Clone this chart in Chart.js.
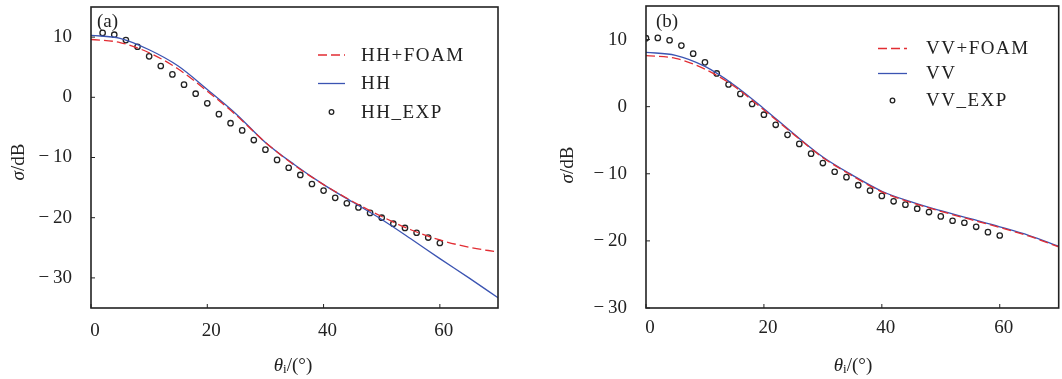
<!DOCTYPE html>
<html>
<head>
<meta charset="utf-8">
<script src="https://cdn.jsdelivr.net/npm/chart.js@4.4.1/dist/chart.umd.min.js"></script>
<style>
  html, body { margin: 0; padding: 0; background: #fff; overflow: hidden; width: 1062px; height: 379px; }
  canvas { position: absolute; top: 0; }
  #graficaA { left: 0; }
  #graficaB { left: 530px; }
</style>
</head>
<body>
<canvas id="graficaA" width="530" height="379"></canvas>
<canvas id="graficaB" width="534" height="379"></canvas>
<script>
// angulos de las curvas teoricas
const thetaCurva = [0, 5, 10, 15, 20, 25, 30, 35, 40, 45, 50, 55, 60, 65, 70];
// (a) polarizacion HH
const hhFoam = [9.6, 9.1, 7.4, 4.7, 1.0, -3.0, -7.5, -11.3, -14.5, -17.3, -19.8, -22.0, -23.7, -24.9, -25.7];
const hh     = [10.3, 9.8, 7.9, 5.2, 1.3, -2.8, -7.5, -11.2, -14.5, -17.4, -20.3, -23.5, -26.8, -30.0, -33.3];
// (b) polarizacion VV
const vvFoam = [7.6, 7.2, 5.6, 3.0, -0.5, -4.1, -7.6, -10.3, -12.7, -14.3, -15.6, -16.8, -18.0, -19.3, -20.9];
const vv     = [8.1, 7.65, 6.0, 3.2, -0.3, -4.0, -7.5, -10.2, -12.6, -14.2, -15.5, -16.7, -17.9, -19.2, -20.8];

// datos experimentales
const thetaExpA = [2, 4, 6, 8, 10, 12, 14, 16, 18, 20, 22, 24, 26, 28, 30, 32, 34, 36, 38, 40, 42, 44, 46, 48, 50, 52, 54, 56, 58, 60];
const hhExp = [10.7, 10.4, 9.5, 8.4, 6.8, 5.2, 3.8, 2.1, 0.6, -1.0, -2.8, -4.3, -5.5, -7.1, -8.7, -10.4, -11.7, -12.9, -14.4, -15.5,
               -16.7, -17.6, -18.3, -19.2, -20.0, -21.0, -21.7, -22.5, -23.3, -24.2];
const thetaExpB = [0, 2, 4, 6, 8, 10, 12, 14, 16, 18, 20, 22, 24, 26, 28, 30, 32, 34, 36, 38, 40, 42, 44, 46, 48, 50, 52, 54, 56, 58, 60];
const vvExp = [10.2, 10.25, 9.9, 9.1, 7.9, 6.6, 4.95, 3.3, 1.9, 0.4, -1.2, -2.7, -4.2, -5.55, -7.0, -8.4, -9.7, -10.5, -11.7, -12.5,
               -13.3, -14.1, -14.6, -15.2, -15.7, -16.35, -17.0, -17.3, -17.9, -18.7, -19.2];

// marcas de los ejes
const ticksX = [0, 20, 40, 60];
const ticksYA = [-30, -20, -10, 0, 10];
const ticksYB = [-30, -20, -10, 0, 10];

const FUENTE = '"Liberation Serif", "Times New Roman", serif';
const ROJO = '#e22d33';
const AZUL = '#3b54b2';
const NEGRO = '#222';

function pares(xs, ys) {
    return xs.map((x, i) => ({ x: x, y: ys[i] }));
}

function etiquetaTick(v) {
    return v < 0 ? '\u2212\u2009' + Math.abs(v) : String(v);
}

// dibuja texto con partes de distinta fuente, centrado en (x, y)
function textoMixto(ctx, partes, x, y) {
    let total = 0;
    partes.forEach(p => { ctx.font = p.font; total += ctx.measureText(p.t).width; });
    let cx = x - total / 2;
    partes.forEach(p => {
        ctx.font = p.font;
        ctx.fillText(p.t, cx, y + (p.dy || 0));
        cx += ctx.measureText(p.t).width;
    });
}

const decoracion = {
    id: 'decoracion',
    afterDraw(chart, args, opts) {
        const ctx = chart.ctx;
        const a = chart.chartArea;
        const sx = chart.scales.x, sy = chart.scales.y;
        ctx.save();
        // marco
        ctx.strokeStyle = NEGRO;
        ctx.lineWidth = 1.6;
        ctx.strokeRect(a.left, a.top, a.right - a.left, a.bottom - a.top);
        // marcas hacia dentro
        ctx.lineWidth = 1;
        ctx.beginPath();
        sx.ticks.forEach(t => {
            const p = sx.getPixelForValue(t.value);
            ctx.moveTo(p, a.bottom); ctx.lineTo(p, a.bottom - 4);
        });
        sy.ticks.forEach(t => {
            const p = sy.getPixelForValue(t.value);
            ctx.moveTo(a.left, p); ctx.lineTo(a.left + 4, p);
        });
        ctx.stroke();

        ctx.fillStyle = NEGRO;
        ctx.textBaseline = 'middle';
        ctx.textAlign = 'left';
        // (a) / (b)
        ctx.font = '19px ' + FUENTE;
        ctx.fillText(opts.etiqueta, opts.etqX, opts.etqY);

        // titulos de ejes
        const normal = '19px ' + FUENTE;
        const cursiva = 'italic 19px ' + FUENTE;
        textoMixto(ctx, [
            { t: '\u03b8', font: cursiva },
            { t: 'i', font: '13px ' + FUENTE, dy: 4 },
            { t: '/(\u00b0)', font: normal }
        ], opts.tituloX[0], opts.tituloX[1]);
        ctx.save();
        ctx.translate(opts.tituloY[0], opts.tituloY[1]);
        ctx.rotate(-Math.PI / 2);
        textoMixto(ctx, [
            { t: '\u03c3', font: cursiva },
            { t: '/dB', font: normal }
        ], 0, 0);
        ctx.restore();

        // leyenda
        const ley = opts.leyenda;
        chart.data.datasets.forEach((ds, i) => {
            const y = ley.filas[i];
            ctx.save();
            if (ds.showLine) {
                ctx.strokeStyle = ds.borderColor;
                ctx.lineWidth = ds.borderWidth;
                ctx.setLineDash(ds.borderDash || []);
                ctx.beginPath();
                ctx.moveTo(ley.x0, y);
                ctx.lineTo(ley.x1, y);
                ctx.stroke();
            } else {
                ctx.strokeStyle = ds.borderColor;
                ctx.lineWidth = 1.3;
                ctx.beginPath();
                ctx.arc((ley.x0 + ley.x1) / 2, y, 2.3, 0, Math.PI * 2);
                ctx.stroke();
            }
            ctx.restore();
            ctx.save();
            ctx.font = normal;
            ctx.letterSpacing = '1.5px';
            ctx.fillText(ds.label, ley.xt, y + 1);
            ctx.restore();
        });
        ctx.restore();
    }
};

function fijarTicks(valores) {
    return s => { s.ticks = valores.map(v => ({ value: v })); };
}

// sin relleno extra de las etiquetas en los extremos
function sinRelleno(s) {
    s.paddingTop = 0;
    s.paddingBottom = 0;
    s.paddingLeft = 0;
    s.paddingRight = 0;
}

function configurar(series, rangoY, ticksY, ancho, extra) {
    return {
        type: 'scatter',
        data: {
            datasets: [
                {
                    label: series[0].nombre,
                    data: series[0].datos,
                    showLine: true,
                    borderColor: ROJO,
                    borderWidth: 1.3,
                    borderDash: [9, 4],
                    pointRadius: 0,
                    cubicInterpolationMode: 'monotone'
                },
                {
                    label: series[1].nombre,
                    data: series[1].datos,
                    showLine: true,
                    borderColor: AZUL,
                    borderWidth: 1.3,
                    pointRadius: 0,
                    cubicInterpolationMode: 'monotone'
                },
                {
                    label: series[2].nombre,
                    data: series[2].datos,
                    showLine: false,
                    borderColor: NEGRO,
                    backgroundColor: 'rgba(0,0,0,0)',
                    borderWidth: 1.3,
                    pointRadius: 2.7,
                    pointStyle: 'circle'
                }
            ]
        },
        options: {
            responsive: false,
            animation: false,
            devicePixelRatio: 1,
            layout: { padding: extra.padding },
            plugins: {
                legend: { display: false },
                tooltip: { enabled: false },
                decoracion: extra.deco
            },
            scales: {
                x: {
                    type: 'linear',
                    min: 0,
                    max: 70,
                    grid: { display: false },
                    border: { display: false },
                    afterBuildTicks: fijarTicks(ticksX),
                    ticks: {
                        color: NEGRO,
                        font: { family: FUENTE, size: 19 },
                        padding: extra.padX,
                        labelOffset: 4,
                        maxRotation: 0,
                        callback: etiquetaTick
                    },
                    afterFit: s => { s.height = 71; sinRelleno(s); }
                },
                y: {
                    min: rangoY[0],
                    max: rangoY[1],
                    grid: { display: false },
                    border: { display: false },
                    afterBuildTicks: fijarTicks(ticksY),
                    ticks: {
                        color: NEGRO,
                        font: { family: FUENTE, size: 19 },
                        padding: 11,
                        callback: etiquetaTick
                    },
                    afterFit: s => { s.width = ancho; sinRelleno(s); }
                }
            }
        },
        plugins: [decoracion]
    };
}

new Chart(document.getElementById('graficaA'), configurar([
    { nombre: 'HH+FOAM', datos: pares(thetaCurva, hhFoam) },
    { nombre: 'HH', datos: pares(thetaCurva, hh) },
    { nombre: 'HH_EXP', datos: pares(thetaExpA, hhExp) }
], [-35, 15], ticksYA, 91, {
    padding: { left: 0, right: 32, top: 7, bottom: 0 },
    padX: 4,
    deco: {
        etiqueta: '(a)', etqX: 97, etqY: 22,
        tituloX: [293, 366], tituloY: [19, 162],
        leyenda: { x0: 318, x1: 345, xt: 361, filas: [55, 83.5, 112] }
    }
}));

new Chart(document.getElementById('graficaB'), configurar([
    { nombre: 'VV+FOAM', datos: pares(thetaCurva, vvFoam) },
    { nombre: 'VV', datos: pares(thetaCurva, vv) },
    { nombre: 'VV_EXP', datos: pares(thetaExpB, vvExp) }
], [-30, 15], ticksYB, 116, {
    padding: { left: 0, right: 0, top: 6, bottom: 0 },
    padX: 1,
    deco: {
        etiqueta: '(b)', etqX: 126, etqY: 22,
        tituloX: [323, 366], tituloY: [38, 165],
        leyenda: { x0: 348, x1: 377, xt: 396, filas: [48.5, 73.5, 100.5] }
    }
}));
</script>
</body>
</html>
